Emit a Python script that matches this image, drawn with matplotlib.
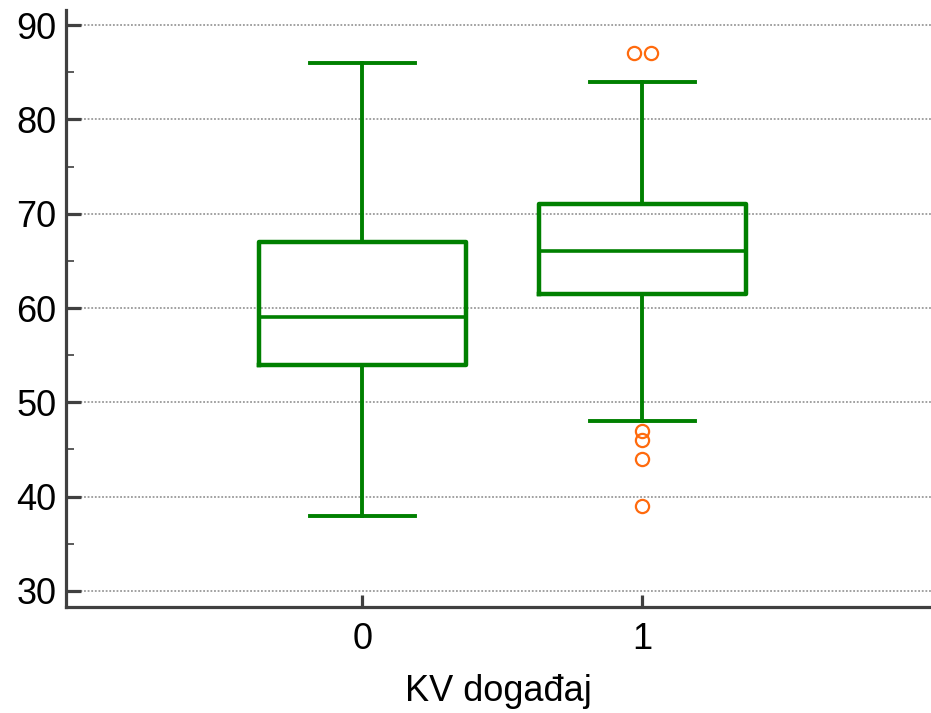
import numpy as np
from matplotlib import pyplot as plt
from matplotlib.ticker import MultipleLocator

plt.rcParams['font.family'] = ['Liberation Sans', 'DejaVu Sans']

groups = ['0', '1']
whislo = [38, 48]
q1 = [54, 61.5]
med = [59, 66]
q3 = [67, 71]
whishi = [86, 84]
fliers = [[], [87, 87, 47, 46, 44, 39]]

green = '#008000'
orange = '#ff6a0d'
spine_col = '#404040'

fig = plt.figure(figsize=(9.31, 7.13), dpi=100)
ax = fig.add_axes([66 / 931, 106 / 713, 865 / 931, 597 / 713])

stats = []
for i in range(len(groups)):
    stats.append({'label': groups[i], 'whislo': whislo[i], 'q1': q1[i], 'med': med[i],
                  'q3': q3[i], 'whishi': whishi[i], 'fliers': []})

pos = np.arange(len(groups))
ax.bxp(stats, positions=pos, widths=0.74, capwidths=0.375, showfliers=False,
       boxprops=dict(color=green, linewidth=3.2),
       medianprops=dict(color=green, linewidth=2.6),
       whiskerprops=dict(color=green, linewidth=2.8),
       capprops=dict(color=green, linewidth=2.8))

# outliers, duplicates nudged side by side
for i, fl in enumerate(fliers):
    vals, counts = np.unique(fl, return_counts=True)
    for v, c in zip(vals, counts):
        offs = (np.arange(c) - (c - 1) / 2) * 0.058
        ax.plot(pos[i] + offs, [v] * c, 'o', mfc='none', mec=orange, ms=9.5, mew=1.6, zorder=3)

ax.set_xlim(-1.057, 2.03)
ax.set_ylim(28.3, 91.6)
ax.set_xticks(pos)
ax.set_xticklabels(groups)
ax.yaxis.set_major_locator(MultipleLocator(10))
ax.yaxis.set_minor_locator(MultipleLocator(5))
ax.yaxis.grid(True, which='major', color='#9a9a9a', linestyle=(0, (1, 1)), linewidth=1.3)
ax.set_axisbelow(True)

for s in ['top', 'right']:
    ax.spines[s].set_visible(False)
for s in ['left', 'bottom']:
    ax.spines[s].set_color(spine_col)
    ax.spines[s].set_linewidth(2.3)

ax.tick_params(axis='y', which='major', direction='in', length=11, width=2.3, color=spine_col,
               labelsize=26, pad=7)
ax.tick_params(axis='y', which='minor', direction='in', length=6, width=1.2, color=spine_col)
ax.tick_params(axis='x', which='major', direction='in', length=9, width=2.3, color=spine_col,
               labelsize=26, pad=11)
ax.set_xlabel('KV događaj', fontsize=26, labelpad=12)

plt.savefig('out.png', dpi=100)
